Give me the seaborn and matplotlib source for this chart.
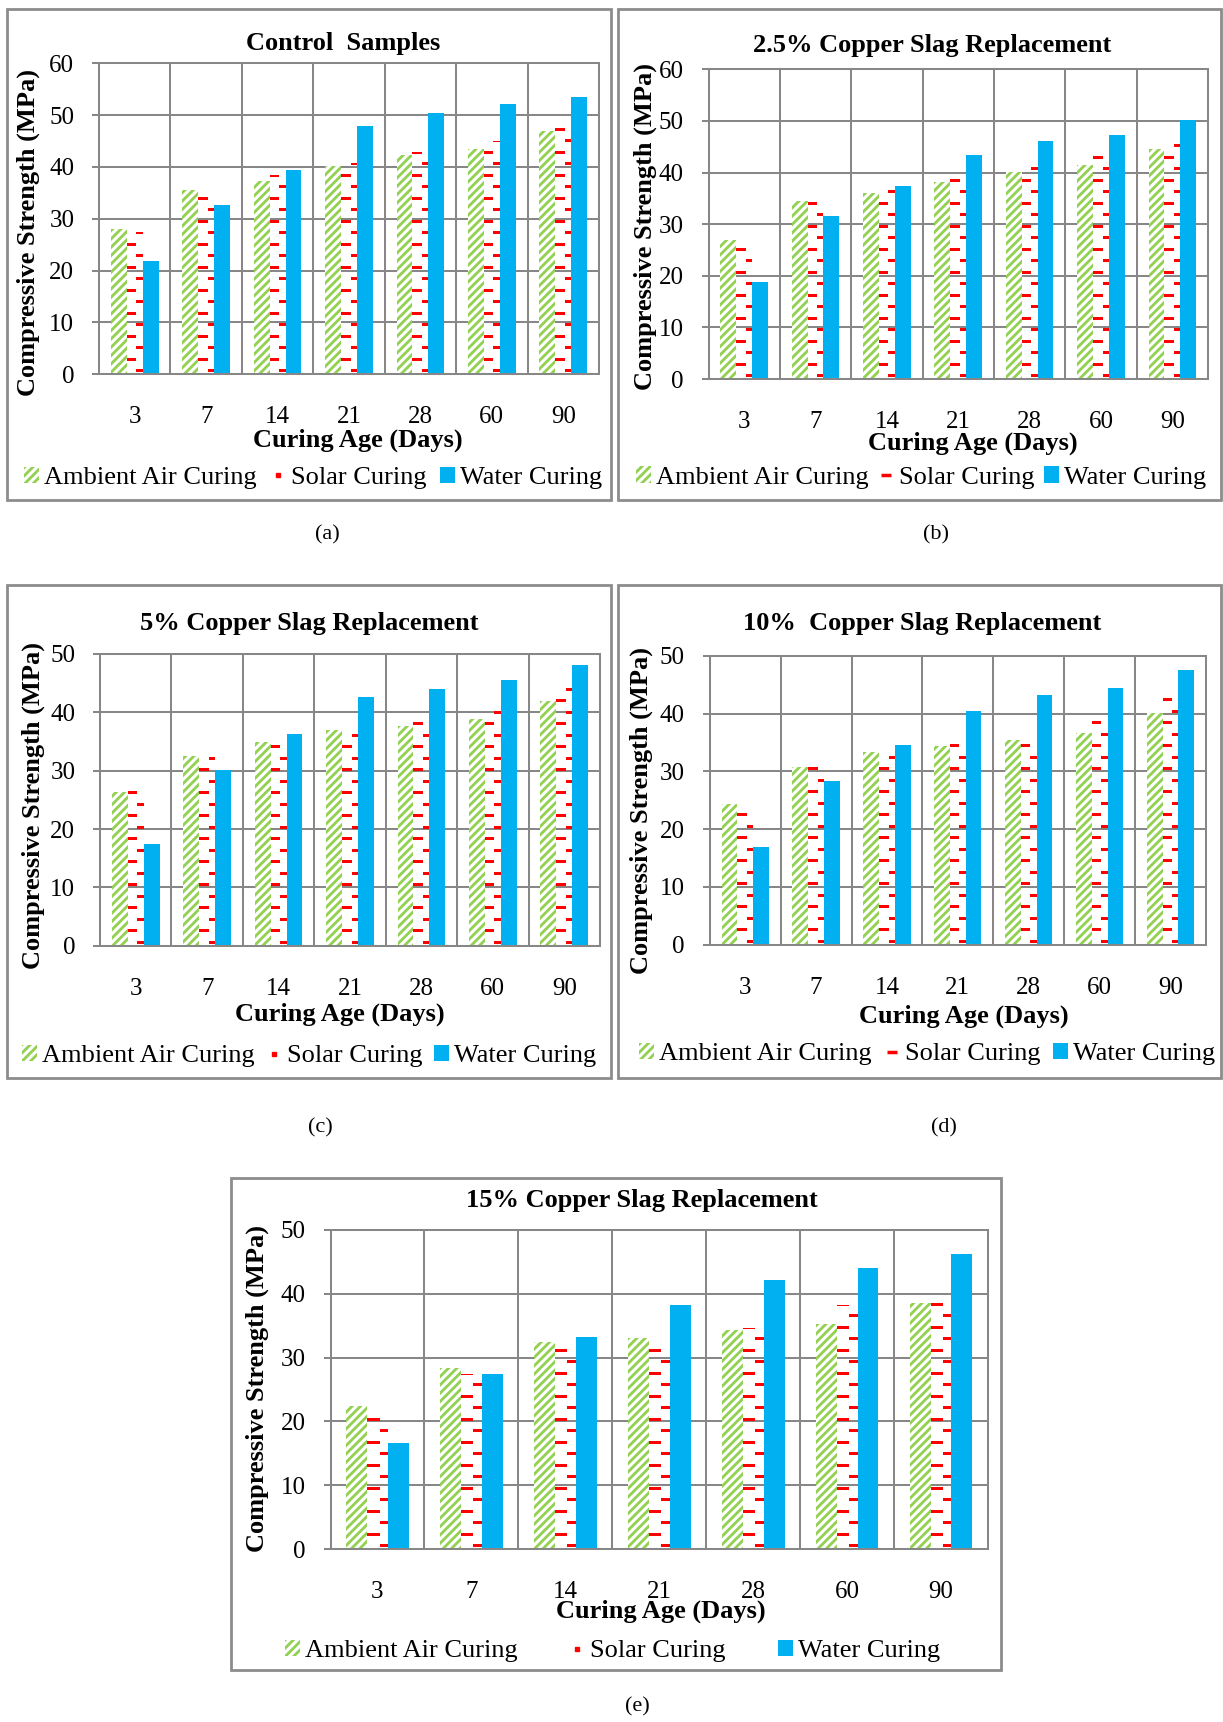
import numpy as np
import pandas as pd
import matplotlib.pyplot as plt
import seaborn as sns
from matplotlib.patches import Rectangle, Patch
from matplotlib.lines import Line2D

# Curing ages and curing methods
ages = ['3', '7', '14', '21', '28', '60', '90']
methods = ['Ambient Air Curing', 'Solar Curing', 'Water Curing']

# Compressive strength (MPa)
control_ambient = [28.0, 35.6, 37.2, 40.1, 42.3, 43.5, 46.9]
control_solar = [27.4, 35.8, 38.4, 40.7, 42.8, 45.0, 48.6]
control_water = [21.9, 32.7, 39.4, 47.9, 50.4, 52.2, 53.5]

cs25_ambient = [26.9, 34.5, 36.1, 38.2, 40.2, 41.5, 44.5]
cs25_solar = [26.0, 34.9, 37.2, 39.4, 41.8, 43.8, 46.0]
cs25_water = [18.8, 31.6, 37.4, 43.4, 46.1, 47.3, 50.2]

cs5_ambient = [26.4, 32.5, 34.9, 37.0, 37.7, 38.9, 41.9]
cs5_solar = [26.8, 33.0, 35.2, 37.2, 38.8, 41.0, 45.1]
cs5_water = [17.5, 30.2, 36.3, 42.6, 44.0, 45.5, 48.1]

cs10_ambient = [24.3, 30.7, 33.4, 34.4, 35.5, 36.6, 40.2]
cs10_solar = [23.5, 30.9, 33.5, 35.3, 35.6, 39.6, 43.1]
cs10_water = [16.9, 28.3, 34.6, 40.5, 43.2, 44.5, 47.6]

cs15_ambient = [22.4, 28.4, 32.5, 33.0, 34.4, 35.3, 38.6]
cs15_solar = [21.9, 27.4, 32.6, 32.8, 34.6, 38.2, 40.0]
cs15_water = [16.6, 27.4, 33.3, 38.3, 42.2, 44.1, 46.3]

W, H = 1223, 1722
GREEN = '#92D050'
RED = '#FF0000'
BLUE = '#00B0F0'
GRID = '#878787'

sns.set_theme(style='white')
plt.rcParams['font.family'] = ['Liberation Serif', 'DejaVu Serif']
plt.rcParams['text.color'] = 'black'
plt.rcParams['hatch.linewidth'] = 2.0

# layout of each panel in pixels (plot area, outer box, text anchors)
panels = [
    dict(title='Control  Samples', values=(control_ambient, control_solar, control_water), ymax=60,
         plot=(99, 63.3, 599, 374.3), box=(7, 9, 611, 500), title_xy=(343, 50),
         ylabel_xy=(28.5, 233), xlabel_xy=(358, 446.5), legend_xy=(313, 478), colsp=0.51,
         letter='(a)', letter_xy=(327, 535), solar_mark='dot'),
    dict(title='2.5% Copper Slag Replacement', values=(cs25_ambient, cs25_solar, cs25_water), ymax=60,
         plot=(708.5, 69.3, 1208, 379), box=(618, 9, 1221, 500), title_xy=(932, 52),
         ylabel_xy=(645.5, 226), xlabel_xy=(973, 449.5), legend_xy=(921, 477.6), colsp=0.37,
         letter='(b)', letter_xy=(935.5, 535), solar_mark='dash'),
    dict(title='5% Copper Slag Replacement', values=(cs5_ambient, cs5_solar, cs5_water), ymax=50,
         plot=(100, 654, 600, 945.7), box=(7, 585, 611, 1078), title_xy=(309.6, 630),
         ylabel_xy=(33, 806), xlabel_xy=(340, 1020.5), legend_xy=(309, 1056), colsp=0.44,
         letter='(c)', letter_xy=(320.6, 1128), solar_mark='dot'),
    dict(title='10%  Copper Slag Replacement', values=(cs10_ambient, cs10_solar, cs10_water), ymax=50,
         plot=(709.7, 656, 1206, 944.7), box=(618, 585, 1221, 1078), title_xy=(921.8, 630),
         ylabel_xy=(641, 810), xlabel_xy=(964, 1022.5), legend_xy=(927, 1054), colsp=0.47,
         letter='(d)', letter_xy=(944, 1128), solar_mark='dash'),
    dict(title='15% Copper Slag Replacement', values=(cs15_ambient, cs15_solar, cs15_water), ymax=50,
         plot=(330.5, 1230, 988, 1549), box=(231, 1178, 1001, 1670), title_xy=(642, 1207),
         ylabel_xy=(257.5, 1388), xlabel_xy=(661, 1617.5), legend_xy=(612.5, 1651), colsp=1.97,
         letter='(e)', letter_xy=(637, 1707), solar_mark='dot'),
]


def fx(x):
    return x / W


def fy(y):
    return 1 - y / H


fig = plt.figure(figsize=(W / 100, H / 100), dpi=100)

for p in panels:
    x0, y0, x1, y1 = p['plot']
    ax = fig.add_axes([fx(x0), fy(y1), (x1 - x0) / W, (y1 - y0) / H])

    df = pd.DataFrame({
        'age': ages * 3,
        'method': np.repeat(methods, len(ages)),
        'strength': np.concatenate(p['values']),
    })
    sns.barplot(data=df, x='age', y='strength', hue='method', order=ages, hue_order=methods,
                palette=[GREEN, RED, BLUE], saturation=1, width=0.667, errorbar=None,
                legend=False, ax=ax)

    amb, sol, wat = ax.containers
    for bar in amb:
        bar.set_facecolor('white')
        bar.set_edgecolor(GREEN)
        bar.set_hatch('////')
        bar.set_linewidth(0)
    for bar in wat:
        bar.set_facecolor(BLUE)
        bar.set_linewidth(0)

    # staggered red dash texture for the solar bars (pixel based, like the original)
    ppu = (y1 - y0) / p['ymax']
    for bar in sol:
        bar.set_facecolor('none')
        bar.set_linewidth(0)
        bx, bw, bh = bar.get_x(), bar.get_width(), bar.get_height()
        k = 0
        while True:
            yb = (2.0 + 11.5 * k) / ppu
            if yb >= bh:
                break
            yt = min(yb + 3.0 / ppu, bh)
            if k % 2 == 0:
                xs, ws = bx + 0.6 * bw, 0.4 * bw
            else:
                xs, ws = bx, 0.6 * bw
            ax.add_patch(Rectangle((xs, yb), ws, yt - yb, facecolor=RED, linewidth=0, zorder=2))
            k += 1

    ax.set_xlim(-0.5, 6.5)
    ax.set_ylim(0, p['ymax'])
    ax.set_yticks(range(0, p['ymax'] + 1, 10))
    ax.set_xticks(np.arange(-0.5, 7, 1), minor=True)
    ax.grid(True, which='major', axis='y', color=GRID, linewidth=1.45)
    ax.grid(True, which='minor', axis='x', color=GRID, linewidth=1.45)
    ax.set_axisbelow(True)
    for s in ax.spines.values():
        s.set_visible(True)
        s.set_color(GRID)
        s.set_linewidth(1.45)
    ax.tick_params(axis='y', which='major', left=True, length=5.3, width=1.45, color=GRID,
                   direction='out', pad=12.5, labelsize=18, labelcolor='black')
    ax.tick_params(axis='x', which='both', bottom=False, length=0, pad=23, labelsize=18,
                   labelcolor='black')
    ax.set_xlabel('')
    ax.set_ylabel('')

    fig.text(fx(p['title_xy'][0]), fy(p['title_xy'][1]), p['title'], ha='center', va='baseline',
             fontsize=19, fontweight='bold')
    fig.text(fx(p['ylabel_xy'][0]), fy(p['ylabel_xy'][1]), 'Compressive Strength (MPa)',
             rotation=90, ha='center', va='center', fontsize=19, fontweight='bold')
    fig.text(fx(p['xlabel_xy'][0]), fy(p['xlabel_xy'][1]), 'Curing Age (Days)', ha='center',
             va='baseline', fontsize=19, fontweight='bold')
    fig.text(fx(p['letter_xy'][0]), fy(p['letter_xy'][1]), p['letter'], ha='center', va='center',
             fontsize=16)

    if p['solar_mark'] == 'dot':
        solar_handle = Line2D([], [], linestyle='none', marker='s', markersize=2.2, color=RED)
    else:
        solar_handle = Line2D([], [], linestyle='none', marker='_', markersize=7,
                              markeredgewidth=2.5, color=RED)
    handles = [Patch(facecolor='white', edgecolor=GREEN, hatch='////', linewidth=0),
               solar_handle,
               Patch(facecolor=BLUE, linewidth=0)]
    fig.legend(handles, methods, loc='center', bbox_to_anchor=(fx(p['legend_xy'][0]), fy(p['legend_xy'][1])),
               ncol=3, frameon=False, fontsize=19, handlelength=0.57, handleheight=0.57,
               handletextpad=0.2, columnspacing=p['colsp'], borderpad=0, borderaxespad=0)

    bx0, by0, bx1, by1 = p['box']
    fig.add_artist(Rectangle((fx(bx0), fy(by1)), (bx1 - bx0) / W, (by1 - by0) / H,
                             transform=fig.transFigure, fill=False, edgecolor='#8C8C8C',
                             linewidth=2))

fig.savefig('out.png', dpi=100)
